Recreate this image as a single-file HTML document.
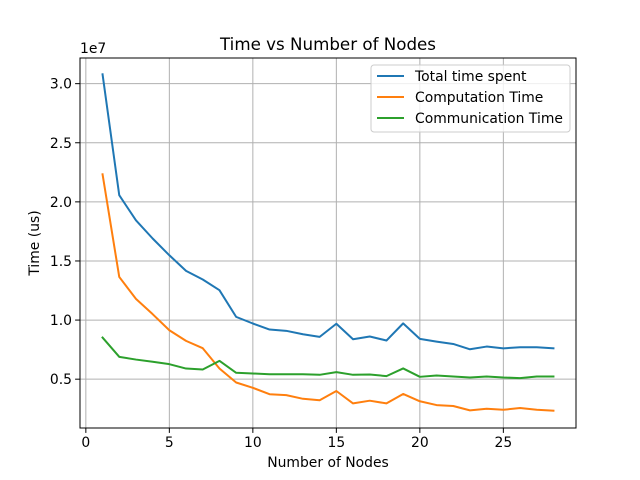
<!DOCTYPE html>
<html><head><meta charset="utf-8"><style>
body{margin:0;background:#fff;}
svg{display:block;font-family:"DejaVu Sans","Liberation Sans",sans-serif;}
</style></head><body>
<svg id="chart" width="640" height="480" viewBox="0 0 640 480">
<rect width="640" height="480" fill="#fff"/>
<g id="grid"></g>
<g id="series"></g>
<rect x="80" y="58" width="496" height="370" fill="none" stroke="#000" stroke-width="1"/>
<g id="ticks"></g>
<text x="328" y="50" text-anchor="middle" font-size="16.7">Time vs Number of Nodes</text>
<text x="328" y="467" text-anchor="middle" font-size="13.9">Number of Nodes</text>
<text transform="translate(39,243) rotate(-90)" text-anchor="middle" font-size="13.9">Time (us)</text>
<text x="80" y="53" font-size="13.9">1e7</text>
<g>
<rect x="371" y="65" width="199" height="67" rx="3" fill="#fff" fill-opacity="0.8" stroke="#ccc"/>
<g id="legend-items"></g>
</g>
</svg>
<script>
const nodes = [1,2,3,4,5,6,7,8,9,10,11,12,13,14,15,16,17,18,19,20,21,22,23,24,25,26,27,28];
const totalTime = [3.079,2.056,1.844,1.69,1.548,1.416,1.343,1.253,1.027,0.971,0.92,0.909,0.88,0.858,0.969,0.838,0.861,0.827,0.972,0.841,0.818,0.798,0.753,0.776,0.761,0.77,0.77,0.761];
const computationTime = [2.233,1.365,1.179,1.05,0.914,0.824,0.762,0.59,0.472,0.427,0.373,0.365,0.334,0.322,0.40,0.295,0.318,0.295,0.375,0.313,0.281,0.273,0.236,0.25,0.241,0.256,0.241,0.233];
const communicationTime = [0.852,0.689,0.666,0.647,0.627,0.59,0.582,0.655,0.554,0.548,0.542,0.542,0.542,0.537,0.56,0.537,0.54,0.526,0.591,0.52,0.531,0.523,0.514,0.523,0.514,0.509,0.523,0.523];
const xTicks = [0,5,10,15,20,25];
const yTicks = [0.5,1.0,1.5,2.0,2.5,3.0];
const yTickLabels = ["0.5","1.0","1.5","2.0","2.5","3.0"];
const seriesNames = ["Total time spent","Computation Time","Communication Time"];
const seriesColors = ["#1f77b4","#ff7f0e","#2ca02c"];

const NS = "http://www.w3.org/2000/svg";
const X0=80,X1=576,Y0=58,Y1=428;
const xMin=-0.35,xMax=29.35,yMin=0.087,yMax=3.217;
const sx=v=>X0+(v-xMin)/(xMax-xMin)*(X1-X0);
const sy=v=>Y1-(v-yMin)/(yMax-yMin)*(Y1-Y0);
function mk(tag,attrs,parent){const e=document.createElementNS(NS,tag);for(const k in attrs)e.setAttribute(k,attrs[k]);parent.appendChild(e);return e;}
const grid=document.getElementById('grid'),ticks=document.getElementById('ticks'),ser=document.getElementById('series'),leg=document.getElementById('legend-items');
xTicks.forEach(t=>{
  const x=sx(t);
  const g=mk('line',{x1:x,x2:x,y1:Y0,y2:Y1,stroke:'#b0b0b0','stroke-width':1},grid);
  
  
  const tk=mk('line',{x1:x,x2:x,y1:Y1,y2:Y1+4.9,stroke:'#000','stroke-width':1},ticks);
  
  
  const tx=mk('text',{x:x,y:Y1+19,'text-anchor':'middle','font-size':13.9},ticks);
  tx.textContent=t;
  
  
});
yTicks.forEach((t,i)=>{
  const y=sy(t);
  const g=mk('line',{x1:X0,x2:X1,y1:y,y2:y,stroke:'#b0b0b0','stroke-width':1},grid);
  
  
  const tk=mk('line',{x1:X0-4.9,x2:X0,y1:y,y2:y,stroke:'#000','stroke-width':1},ticks);
  
  
  const tx=mk('text',{x:X0-8,y:y+5,'text-anchor':'end','font-size':13.9},ticks);
  tx.textContent=yTickLabels[i];
  
  
});
[totalTime,computationTime,communicationTime].forEach((vals,si)=>{
  const pts=vals.map((v,i)=>sx(nodes[i]).toFixed(2)+','+sy(v).toFixed(2)).join(' ');
  const p=mk('polyline',{points:pts,fill:'none',stroke:seriesColors[si],'stroke-width':2,'stroke-linejoin':'round','stroke-linecap':'square'},ser);
  
  
  const ly=76+si*21;
  const l=mk('line',{x1:377,x2:404,y1:ly,y2:ly,stroke:seriesColors[si],'stroke-width':2},leg);
  
  
  const t=mk('text',{x:415,y:ly+5,'font-size':13.9},leg);
  t.textContent=seriesNames[si];
  
  
});
</script>
</body></html>
